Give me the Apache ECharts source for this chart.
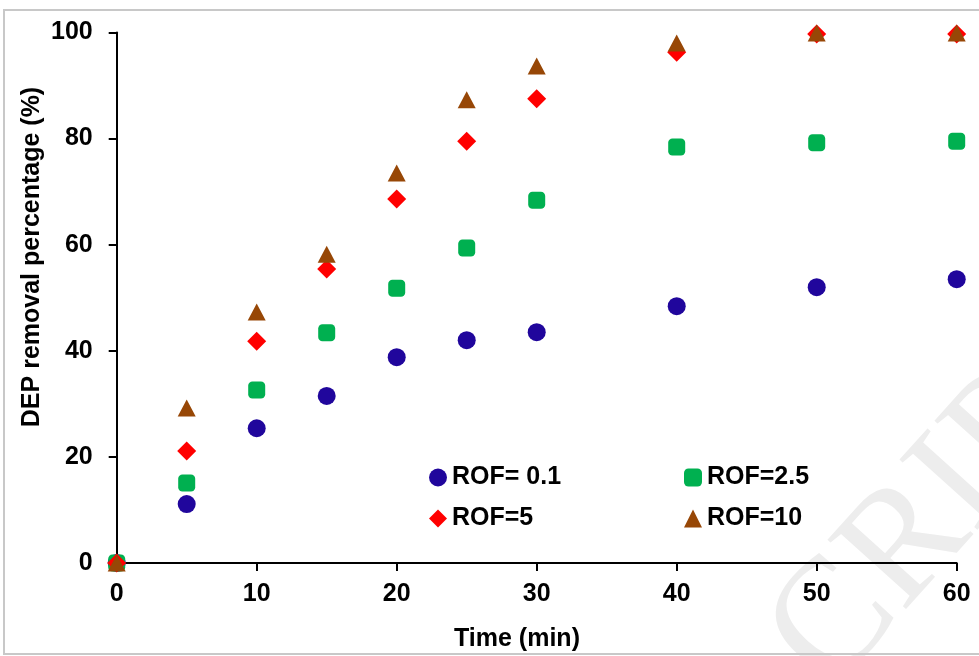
<!DOCTYPE html>
<html>
<head>
<meta charset="utf-8">
<script src="https://cdn.jsdelivr.net/npm/echarts@6/dist/echarts.min.js"></script>
<style>html,body{margin:0;padding:0;background:#fff}#c{width:979px;height:656px}</style>
</head>
<body>
<div id="c"></div>
<script>
const time = [0, 5, 10, 15, 20, 25, 30, 40, 50, 60];
const rof01 = [0, 11.1, 25.4, 31.5, 38.8, 42.0, 43.5, 48.4, 52.0, 53.5];
const rof25 = [0, 15.1, 32.6, 43.4, 51.8, 59.4, 68.4, 78.4, 79.2, 79.5];
const rof5 = [0, 21.1, 41.8, 55.4, 68.6, 79.5, 87.5, 96.3, 99.7, 99.7];
const rof10 = [0, 29.2, 47.3, 58.2, 73.5, 87.3, 93.7, 98.0, 99.9, 99.9];
const seriesNames = ['ROF= 0.1', 'ROF=2.5', 'ROF=5', 'ROF=10'];
const xTicks = [0, 10, 20, 30, 40, 50, 60];
const yTicks = [0, 20, 40, 60, 80, 100];

const FONT = '"Liberation Sans", Arial, sans-serif';
const pair = arr => time.map((t, i) => [t, arr[i]]);

const chart = echarts.init(document.getElementById('c'), null, {renderer: 'canvas'});
const axisCommon = {
  axisLine: {show: true, lineStyle: {color: '#000', width: 2}},
  axisTick: {show: true, inside: false, length: 8, lineStyle: {color: '#000', width: 2}},
  splitLine: {show: false},
};
const wmAngle = 48 * Math.PI / 180;
chart.setOption({
  animation: false,
  backgroundColor: '#fff',
  grid: {left: 116.7, right: 22.3, top: 32.5, bottom: 93, containLabel: false},
  xAxis: Object.assign({
    type: 'value', min: xTicks[0], max: xTicks[xTicks.length - 1], interval: 10,
    axisLabel: {color: '#000', fontSize: 25, fontWeight: 'bold', fontFamily: FONT, margin: 19}
  }, axisCommon),
  yAxis: Object.assign({
    type: 'value', min: yTicks[0], max: yTicks[yTicks.length - 1], interval: 20,
    axisLabel: {color: '#000', fontSize: 25, fontWeight: 'bold', fontFamily: FONT, margin: 24}
  }, axisCommon),
  legend: [
    {
      orient: 'vertical', left: 424, top: 460, padding: 5, itemWidth: 18, itemHeight: 18, itemGap: 16,
      textStyle: {color: '#000', fontSize: 25, fontWeight: 'bold', fontFamily: FONT},
      data: [seriesNames[0], seriesNames[2]]
    },
    {
      orient: 'vertical', left: 679, top: 460, padding: 5, itemWidth: 18, itemHeight: 18, itemGap: 16,
      textStyle: {color: '#000', fontSize: 25, fontWeight: 'bold', fontFamily: FONT},
      data: [seriesNames[1], seriesNames[3]]
    }
  ],
  graphic: [
    {
      type: 'text', z: -10, silent: true,
      x: 835 - 53 * Math.cos(wmAngle), y: 625 + 53 * Math.sin(wmAngle), rotation: wmAngle,
      style: {text: 'CRIPT', font: '160px "Liberation Serif", "Times New Roman", serif', fill: '#ededed', textAlign: 'left', textVerticalAlign: 'middle'}
    },
    {
      type: 'rect', z: 100, silent: true,
      shape: {x: 4, y: 10, width: 1000, height: 644},
      style: {fill: 'none', stroke: '#c8c8c8', lineWidth: 2}
    },
    {
      type: 'text', x: 32, y: 257, rotation: Math.PI / 2,
      style: {text: 'DEP removal percentage (%)', font: 'bold 25px ' + FONT, fill: '#000', textAlign: 'center', textVerticalAlign: 'middle'}
    },
    {
      type: 'text', x: 517, y: 639,
      style: {text: 'Time (min)', font: 'bold 25px ' + FONT, fill: '#000', textAlign: 'center', textVerticalAlign: 'middle'}
    }
  ],
  series: [
    {name: seriesNames[0], type: 'scatter', symbol: 'circle', symbolSize: 18, data: pair(rof01), itemStyle: {color: '#20069c', opacity: 1}, z: 2},
    {name: seriesNames[1], type: 'scatter', symbol: 'roundRect', symbolSize: 17, data: pair(rof25), itemStyle: {color: '#00b050', opacity: 1}, z: 3},
    {name: seriesNames[2], type: 'scatter', symbol: 'diamond', symbolSize: 19, data: pair(rof5), itemStyle: {color: '#ff0000', opacity: 1}, z: 4},
    {name: seriesNames[3], type: 'scatter', symbol: 'triangle', symbolSize: [18, 17], data: pair(rof10), itemStyle: {color: '#974706', opacity: 1}, z: 5}
  ]
});
</script>
</body>
</html>
